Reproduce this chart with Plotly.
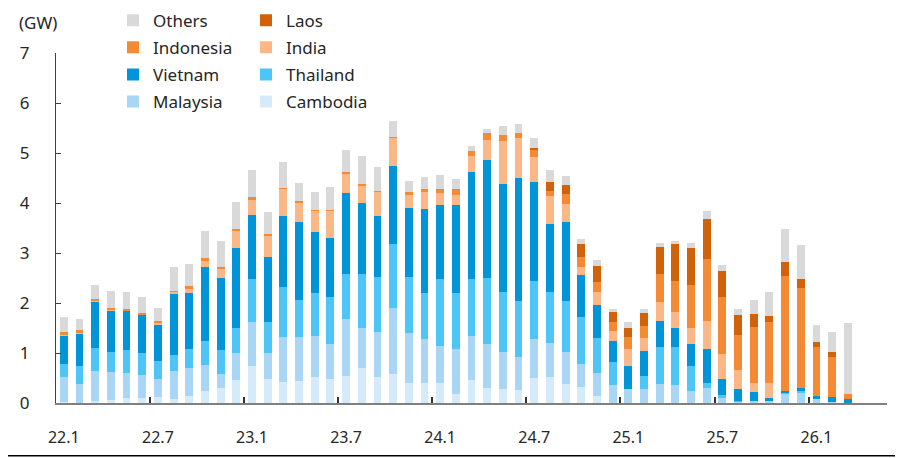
import plotly.graph_objects as go

months = [f"{y}.{m}" for y in (22, 23, 24, 25) for m in range(1, 13)] + ["26.1", "26.2", "26.3"]

cambodia = [0.02, 0.01, 0.05, 0.07, 0.11, 0.11, 0.13, 0.09, 0.15, 0.25, 0.31, 0.46,
            0.75, 0.49, 0.43, 0.45, 0.52, 0.49, 0.55, 0.71, 0.53, 0.59, 0.41, 0.41,
            0.41, 0.18, 0.47, 0.31, 0.29, 0.26, 0.50, 0.53, 0.39, 0.32, 0.15, 0.01,
            0, 0, 0, 0, 0, 0, 0, 0, 0, 0, 0, 0,
            0, 0, 0]
malaysia = [0.50, 0.38, 0.60, 0.55, 0.49, 0.45, 0.35, 0.55, 0.55, 0.52, 0.27, 0.54,
            0.88, 0.51, 0.90, 0.87, 0.83, 0.70, 1.14, 0.80, 0.90, 1.31, 0.99, 0.87,
            0.73, 0.91, 0.87, 0.87, 0.73, 0.67, 0.78, 0.68, 0.63, 0.46, 0.45, 0.36,
            0.28, 0.29, 0.39, 0.37, 0.25, 0.31, 0.11, 0.03, 0.05, 0.04, 0.19, 0.21,
            0.08, 0.03, 0]
thailand = [0.27, 0.36, 0.45, 0.40, 0.47, 0.45, 0.36, 0.33, 0.38, 0.47, 0.48, 0.51,
            0.85, 0.63, 0.99, 0.75, 0.85, 0.93, 0.90, 1.08, 1.09, 1.28, 1.13, 0.93,
            1.35, 1.11, 1.15, 1.33, 1.20, 1.11, 1.16, 1.02, 1.03, 0.95, 0.70, 0.45,
            0.01, 0.25, 0.73, 0.76, 0.49, 0.10, 0.05, 0.02, 0, 0, 0.02, 0.03,
            0, 0, 0]
vietnam = [0.55, 0.64, 0.92, 0.83, 0.77, 0.75, 0.73, 1.22, 1.13, 1.49, 1.45, 1.59,
           1.28, 1.29, 1.43, 1.56, 1.23, 1.19, 1.61, 1.41, 1.23, 1.57, 1.37, 1.67,
           1.47, 1.77, 2.13, 2.36, 2.17, 2.47, 1.99, 1.35, 1.57, 0.84, 0.67, 0.43,
           0.46, 0.51, 0.53, 0.37, 0.45, 0.68, 0.33, 0.23, 0.17, 0.07, 0.03, 0.07,
           0.07, 0.09, 0.09]
india = [0.02, 0.02, 0.02, 0.02, 0.01, 0.01, 0.03, 0.03, 0.08, 0.11, 0.18, 0.34,
         0.30, 0.43, 0.53, 0.37, 0.41, 0.53, 0.39, 0.35, 0.47, 0.55, 0.27, 0.34,
         0.25, 0.20, 0.32, 0.40, 0.85, 0.79, 0.49, 0.56, 0.37, 0.15, 0.25, 0.19,
         0.34, 0.25, 0.37, 0.33, 0.31, 0.56, 0.49, 0.39, 0.19, 0.30, 0, 0,
         0, 0, 0]
indonesia = [0.06, 0.05, 0.05, 0.04, 0.04, 0.03, 0.04, 0.03, 0.05, 0.07, 0.03, 0.05,
             0.07, 0.03, 0.03, 0.04, 0.03, 0.03, 0.04, 0.03, 0.03, 0.02, 0.05, 0.07,
             0.07, 0.11, 0.10, 0.13, 0.13, 0.11, 0.15, 0.10, 0.20, 0.21, 0.21, 0.19,
             0.23, 0.25, 0.57, 0.62, 0.87, 1.23, 1.15, 0.70, 1.11, 1.21, 2.31, 2.00,
             0.97, 0.81, 0.09]
laos = [0, 0, 0, 0, 0, 0, 0, 0, 0, 0, 0, 0,
        0, 0, 0, 0, 0, 0, 0, 0, 0, 0, 0, 0,
        0, 0, 0, 0, 0, 0, 0.03, 0.19, 0.17, 0.25, 0.31, 0.19,
        0.18, 0.25, 0.54, 0.73, 0.74, 0.80, 0.51, 0.39, 0.27, 0.13, 0.28, 0.18,
        0.11, 0.09, 0]
others = [0.31, 0.22, 0.28, 0.33, 0.33, 0.33, 0.26, 0.47, 0.45, 0.53, 0.52, 0.54,
          0.53, 0.44, 0.51, 0.37, 0.35, 0.46, 0.43, 0.57, 0.47, 0.33, 0.22, 0.24,
          0.29, 0.20, 0.10, 0.08, 0.17, 0.17, 0.20, 0.23, 0.18, 0.11, 0.12, 0.07,
          0.13, 0.08, 0.07, 0.07, 0.09, 0.17, 0.13, 0.13, 0.28, 0.47, 0.66, 0.67,
          0.33, 0.40, 1.43]

# (name, values, colour, legend column, row in that column)
series = [
    ("Cambodia", cambodia, "#D5EBFA", "legend2", 4),
    ("Malaysia", malaysia, "#A9D6F4", "legend", 4),
    ("Thailand", thailand, "#4DC5F7", "legend2", 3),
    ("Vietnam", vietnam, "#0095D8", "legend", 3),
    ("India", india, "#FBB886", "legend2", 2),
    ("Indonesia", indonesia, "#F58A35", "legend", 2),
    ("Laos", laos, "#D2620A", "legend2", 1),
    ("Others", others, "#D9D9D9", "legend", 1),
]

FONT = "Noto Sans"
TXT = "#262626"

fig = go.Figure()
for name, vals, color, leg, rank in series:
    fig.add_trace(go.Bar(
        x=months, y=vals, name=name, marker=dict(color=color, line=dict(width=0)),
        legend=leg, legendgroup=name, legendrank=rank,
    ))

# invisible helper trace so the boundary-tick axis is drawn
fig.add_trace(go.Scatter(x=[], y=[], xaxis="x2", showlegend=False, hoverinfo="skip"))

n_slots = len(months) + 2
boundary_ticks = [i - 0.5 for i in range(6, len(months), 6)]

# page has an 8px body margin, so the figure is laid out 8px up/left
PLOT_L, PLOT_T, PLOT_W, PLOT_H = 48, 45, 831, 350

legend_common = dict(
    yanchor="top", y=1 + (53 - 2.7) / 350, xanchor="left",
    orientation="v", traceorder="grouped", tracegroupgap=2,
    font=dict(size=17, color=TXT), bgcolor="rgba(0,0,0,0)",
)

fig.update_layout(
    width=895, height=450,
    margin=dict(l=PLOT_L, r=895 - PLOT_L - PLOT_W, t=PLOT_T, b=450 - PLOT_T - PLOT_H,
                autoexpand=False),
    paper_bgcolor="white", plot_bgcolor="white",
    barmode="stack", bargap=0.5,
    font=dict(family=FONT, size=17, color=TXT),
    xaxis=dict(
        type="category", categoryorder="array", categoryarray=months,
        range=[-0.5, n_slots - 0.5],
        tickmode="linear", tick0=0, dtick=6, ticks="",
        showline=True, linecolor="#808080", linewidth=2,
        showgrid=False, zeroline=False, automargin=False,
        tickfont=dict(size=16, color=TXT), ticklabelstandoff=19,
    ),
    xaxis2=dict(
        overlaying="x", anchor="y", side="bottom", type="linear",
        range=[-0.5, n_slots - 0.5], tickmode="array", tickvals=boundary_ticks,
        ticks="inside", ticklen=6, tickwidth=1.5, tickcolor="#333333",
        showticklabels=False, showgrid=False, zeroline=False, showline=False,
    ),
    yaxis=dict(
        range=[0, 7], tickmode="linear", tick0=0, dtick=1,
        showline=True, linecolor="#404040", linewidth=1,
        ticks="inside", ticklen=5, tickcolor="#404040",
        showgrid=False, zeroline=False, automargin=False,
        tickfont=dict(size=17, color=TXT), ticklabelstandoff=22,
    ),
    legend=dict(x=(113 - 56) / 831, **legend_common),
    legend2=dict(x=(246 - 56) / 831, **legend_common),
    annotations=[dict(
        text="(GW)", xref="paper", yref="paper",
        x=(17 - 56) / 831, y=1 + (PLOT_T - 1) / PLOT_H, xanchor="left", yanchor="top",
        showarrow=False, font=dict(size=17, color=TXT),
    )],
    shapes=[dict(
        type="line", xref="paper", yref="paper",
        x0=-56 / 831, x1=(903 - 56) / 831,
        y0=-(456 - 403.3) / 350, y1=-(456 - 403.3) / 350,
        line=dict(color="#000000", width=1.5),
    )],
    hovermode=False,
)

fig.write_html("out.html")
